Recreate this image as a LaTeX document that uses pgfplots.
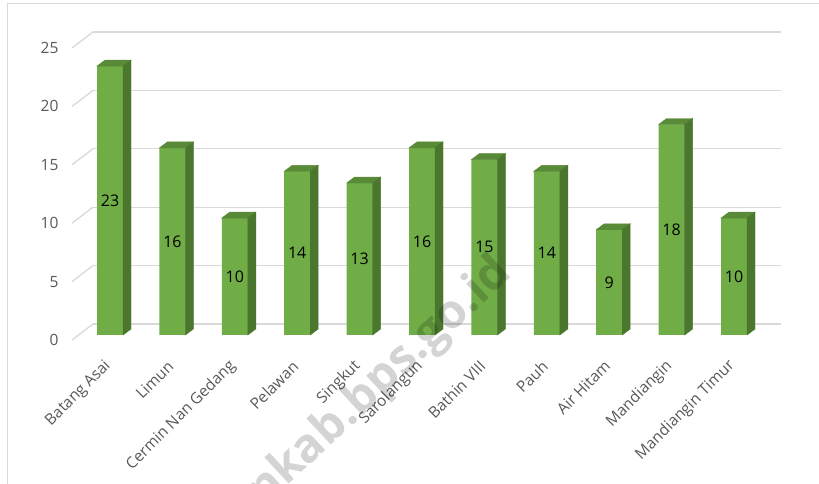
\documentclass[border=0pt]{standalone}
\usepackage{fontspec}
\setmainfont{Open Sans}
\usepackage{pgfplots}
\pgfplotsset{compat=1.18}
\pgfkeys{/pgf/number format/assume math mode=true}

\definecolor{barfront}{HTML}{70AD47}
\definecolor{bartop}{HTML}{588A37}
\definecolor{barside}{HTML}{4A772D}
\definecolor{gridc}{HTML}{D9D9D9}
\definecolor{labc}{HTML}{595959}

\pgfdeclareplotmark{void}{}
\newcommand{\lab}{\fontsize{15.5}{18}\selectfont}
\newcommand{\dlab}{\fontsize{16}{19}\selectfont}

\begin{document}
\begin{tikzpicture}
\useasboundingbox (0,0) rectangle (819pt,484pt);
\clip (0,0) rectangle (819pt,484pt);
\fill[white] (0,0) rectangle (819pt,484pt);
% frame
\draw[gridc, line width=1pt] (7pt,0pt) -- (7pt,480pt) -- (830pt,480pt);

% back wall with gridlines
\begin{axis}[at={(93pt,160pt)}, anchor=south west, scale only axis,
  width=688pt, height=292pt, xmin=0, xmax=1, ymin=0, ymax=25,
  ytick={0,5,...,25}, xtick=\empty, ymajorgrids,
  grid style={gridc, line width=1.3pt},
  axis line style={draw=none}, major tick length=0pt,
  yticklabel style={font=\lab, text=labc, anchor=east, xshift=-31pt, yshift=-16pt},
  clip=false]
\addplot[draw=none] coordinates {(0,0)};
\pgfplotsinvokeforeach{0,5,10,15,20,25}{
  \draw[gridc, line width=1.3pt] (axis cs:0,#1) -- ++(-21pt,-16pt);
}
\end{axis}

% bars
\begin{axis}[at={(78.8pt,149pt)}, anchor=south west, scale only axis,
  width=686.4pt, height=292.3pt, xmin=-0.5, xmax=10.5, ymin=0, ymax=25,
  axis line style={draw=none}, ytick=\empty, major tick length=0pt,
  xtick={0,...,10},
  xticklabels={Batang Asai, Limun, Cermin Nan Gedang, Pelawan, Singkut, Sarolangun,
    Bathin VIII, Pauh, Air Hitam, Mandiangin, Mandiangin Timur},
  xticklabel style={font=\lab, text=labc, rotate=45, anchor=east, xshift=-18pt, yshift=-19pt},
  clip=false]
\addplot[ybar, bar width=26pt, fill=barfront, draw=none] coordinates {
  (0,23) (1,16) (2,10) (3,14) (4,13) (5,16) (6,15) (7,14) (8,9) (9,18) (10,10)
};
\addplot[scatter, only marks, mark=void,
  visualization depends on={rawy \as \bh},
  scatter/@pre marker code/.code={%
    \pgfmathsetlengthmacro\hneg{-\bh*11.692pt}%
    \pgfmathsetlengthmacro\hsid{6pt-\bh*11.692pt}%
    \pgfmathsetlengthmacro\hmid{-0.5*\bh*11.692pt}%
    \fill[bartop] (-13pt,0pt) -- (13pt,0pt) -- (21pt,6pt) -- (-5pt,6pt) -- cycle;
    \fill[barside] (13pt,0pt) -- (21pt,6pt) -- (21pt,\hsid) -- (13pt,\hneg) -- cycle;
    \node[text=black, font=\dlab] at (0pt,\hmid) {\pgfmathprintnumber{\bh}};
  },
  scatter/@post marker code/.code={}] coordinates {
  (0,23) (1,16) (2,10) (3,14) (4,13) (5,16) (6,15) (7,14) (8,9) (9,18) (10,10)
};
\end{axis}

% watermark, semi-transparent on top
\node[text=black, text opacity=0.17, font=\fontsize{47}{47}\selectfont\bfseries,
  rotate=43, anchor=base east] at (516pt,211pt) {sarolangunkab.bps.go.id};
\end{tikzpicture}
\end{document}
